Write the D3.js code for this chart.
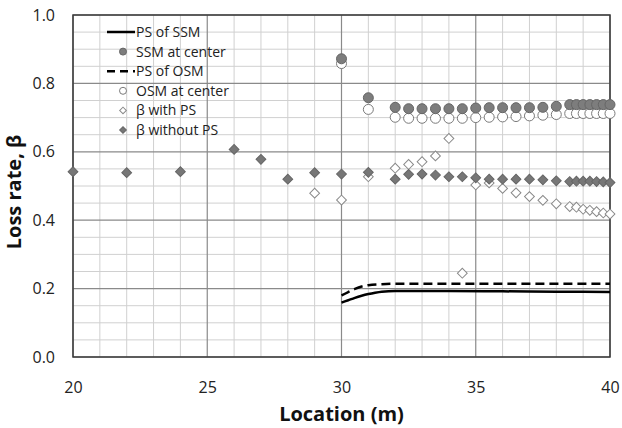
<!DOCTYPE html>
<html>
<head>
<meta charset="utf-8">
<script src="https://cdn.jsdelivr.net/npm/d3@7"></script>
<style>
    body { margin: 0; background: #ffffff; }
    svg { display: block; font-family: "Open Sans", sans-serif; }
</style>
</head>
<body>
<div id="chart"></div>
<script>
"use strict";

// beta without PS (filled diamonds)
const betaNoPsX = [20, 22, 24, 26, 27, 28, 29, 30, 31, 32, 32.5, 33, 33.5, 34, 34.5, 35, 35.5, 36, 36.5, 37, 37.5, 38, 38.5, 38.75, 39, 39.25, 39.5, 39.75, 40];
const betaNoPsY = [0.542, 0.539, 0.542, 0.607, 0.578, 0.520, 0.539, 0.535, 0.540, 0.520, 0.534, 0.535, 0.532, 0.527, 0.527, 0.524, 0.520, 0.520, 0.520, 0.520, 0.518, 0.515, 0.513, 0.514, 0.514, 0.514, 0.513, 0.512, 0.510];

// beta with PS (open diamonds)
const betaPsX = [29, 30, 31, 32, 32.5, 33, 33.5, 34, 34.5, 35, 35.5, 36, 36.5, 37, 37.5, 38, 38.5, 38.75, 39, 39.25, 39.5, 39.75, 40];
const betaPsY = [0.479, 0.459, 0.527, 0.552, 0.563, 0.571, 0.588, 0.639, 0.245, 0.503, 0.509, 0.493, 0.480, 0.469, 0.458, 0.448, 0.440, 0.438, 0.432, 0.429, 0.425, 0.421, 0.418];

// values at center (circles)
const centerX = [30, 31, 32, 32.5, 33, 33.5, 34, 34.5, 35, 35.5, 36, 36.5, 37, 37.5, 38, 38.5, 38.75, 39, 39.25, 39.5, 39.75, 40];
const ssmCenterY = [0.872, 0.758, 0.730, 0.726, 0.726, 0.726, 0.726, 0.726, 0.728, 0.729, 0.729, 0.729, 0.729, 0.730, 0.733, 0.738, 0.738, 0.738, 0.738, 0.738, 0.738, 0.738];
const osmCenterY = [0.858, 0.724, 0.701, 0.698, 0.698, 0.698, 0.698, 0.698, 0.700, 0.701, 0.702, 0.703, 0.705, 0.707, 0.709, 0.712, 0.712, 0.712, 0.712, 0.712, 0.712, 0.712];

// PS curves
const psSsmX = [30, 30.25, 30.5, 30.75, 31, 31.25, 31.5, 32, 34, 36, 38, 40];
const psSsmY = [0.159, 0.166, 0.173, 0.179, 0.184, 0.188, 0.191, 0.193, 0.193, 0.192, 0.191, 0.190];
const psOsmX = [30, 30.25, 30.5, 30.75, 31, 31.5, 32, 36, 40];
const psOsmY = [0.180, 0.190, 0.199, 0.206, 0.210, 0.213, 0.214, 0.214, 0.214];

const xTicks = [20, 25, 30, 35, 40];
const yTicks = [0.0, 0.2, 0.4, 0.6, 0.8, 1.0];

const legendLabels = ["PS of SSM", "SSM at center", "PS of OSM", "OSM at center", "\u03b2 with PS", "\u03b2 without PS"];

const margin = {top: 15, right: 12, bottom: 71, left: 73},
    width = 622 - margin.left - margin.right,
    height = 428 - margin.top - margin.bottom;

const svg = d3.select("#chart")
    .append("svg")
    .attr("width", 622)
    .attr("height", 428)
    .append("g")
    .attr("transform", "translate(" + margin.left + "," + margin.top + ")");

const x = d3.scaleLinear().domain([20, 40]).range([0, width]);
const y = d3.scaleLinear().domain([0, 1]).range([height, 0]);

// minor grid
svg.append("g")
    .selectAll("line")
    .data(d3.range(21, 40, 1).filter(function(d) { return d % 5 !== 0; }))
    .join("line")
    .attr("x1", function(d) { return x(d); })
    .attr("x2", function(d) { return x(d); })
    .attr("y1", 0)
    .attr("y2", height)
    .attr("stroke", "#d0d0d0")
    .attr("stroke-width", 1);

svg.append("g")
    .selectAll("line")
    .data(d3.range(1, 20, 1).filter(function(d) { return d % 4 !== 0; }))
    .join("line")
    .attr("x1", 0)
    .attr("x2", width)
    .attr("y1", function(d) { return y(d * 0.05); })
    .attr("y2", function(d) { return y(d * 0.05); })
    .attr("stroke", "#d0d0d0")
    .attr("stroke-width", 1);

// major grid
svg.append("g")
    .selectAll("line")
    .data(xTicks)
    .join("line")
    .attr("x1", function(d) { return x(d); })
    .attr("x2", function(d) { return x(d); })
    .attr("y1", 0)
    .attr("y2", height)
    .attr("stroke", "#8a8a8a")
    .attr("stroke-width", 1.2);

svg.append("g")
    .selectAll("line")
    .data(yTicks)
    .join("line")
    .attr("x1", 0)
    .attr("x2", width)
    .attr("y1", function(d) { return y(d); })
    .attr("y2", function(d) { return y(d); })
    .attr("stroke", "#8a8a8a")
    .attr("stroke-width", 1.2);

// frame
svg.append("rect")
    .attr("x", 0)
    .attr("y", 0)
    .attr("width", width)
    .attr("height", height)
    .attr("fill", "none")
    .attr("stroke", "#3a3a3a")
    .attr("stroke-width", 1.5);

// axes (labels only)
const xAxis = svg.append("g")
    .attr("transform", "translate(0," + height + ")")
    .call(d3.axisBottom(x).tickValues(xTicks).tickSize(0).tickPadding(25).tickFormat(d3.format("d")));
xAxis.select(".domain").remove();
xAxis.selectAll("text").attr("font-size", 16).attr("font-family", "Open Sans").attr("fill", "#222");

const yAxis = svg.append("g")
    .call(d3.axisLeft(y).tickValues(yTicks).tickSize(0).tickPadding(18).tickFormat(d3.format(".1f")));
yAxis.select(".domain").remove();
yAxis.selectAll("text").attr("font-size", 16).attr("font-family", "Open Sans").attr("fill", "#222");

svg.append("text")
    .attr("x", width / 2)
    .attr("y", height + 64)
    .attr("text-anchor", "middle")
    .attr("font-size", 20)
    .attr("font-weight", "bold")
    .attr("fill", "#111")
    .text("Location (m)");

svg.append("text")
    .attr("transform", "translate(" + (21 - margin.left) + "," + (height / 2 + 6) + ") rotate(-90)")
    .attr("text-anchor", "middle")
    .attr("font-size", 20)
    .attr("font-weight", "bold")
    .attr("fill", "#111")
    .text("Loss rate, \u03b2");

// PS lines
const line = d3.line()
    .curve(d3.curveMonotoneX)
    .x(function(d) { return x(d[0]); })
    .y(function(d) { return y(d[1]); });

svg.append("path")
    .datum(d3.zip(psSsmX, psSsmY))
    .attr("fill", "none")
    .attr("stroke", "#000")
    .attr("stroke-width", 2.5)
    .attr("d", line);

svg.append("path")
    .datum(d3.zip(psOsmX, psOsmY))
    .attr("fill", "none")
    .attr("stroke", "#000")
    .attr("stroke-width", 2.5)
    .attr("stroke-dasharray", "9,5")
    .attr("d", line);

const diamond = d3.symbol().type(d3.symbolSquare).size(48);
const diamondSmall = d3.symbol().type(d3.symbolSquare).size(22);

// open diamonds
svg.append("g")
    .selectAll("path")
    .data(d3.zip(betaPsX, betaPsY))
    .join("path")
    .attr("d", diamond)
    .attr("transform", function(d) { return "translate(" + x(d[0]) + "," + y(d[1]) + ") rotate(45)"; })
    .attr("fill", "#ffffff")
    .attr("stroke", "#8a8a8a")
    .attr("stroke-width", 1);

// open circles
svg.append("g")
    .selectAll("circle")
    .data(d3.zip(centerX, osmCenterY))
    .join("circle")
    .attr("cx", function(d) { return x(d[0]); })
    .attr("cy", function(d) { return y(d[1]); })
    .attr("r", 5)
    .attr("fill", "#ffffff")
    .attr("stroke", "#7a7a7a")
    .attr("stroke-width", 1);

// filled circles
svg.append("g")
    .selectAll("circle")
    .data(d3.zip(centerX, ssmCenterY))
    .join("circle")
    .attr("cx", function(d) { return x(d[0]); })
    .attr("cy", function(d) { return y(d[1]); })
    .attr("r", 5)
    .attr("fill", "#7d7d7d")
    .attr("stroke", "#666")
    .attr("stroke-width", 1);

// filled diamonds
svg.append("g")
    .selectAll("path")
    .data(d3.zip(betaNoPsX, betaNoPsY))
    .join("path")
    .attr("d", diamond)
    .attr("transform", function(d) { return "translate(" + x(d[0]) + "," + y(d[1]) + ") rotate(45)"; })
    .attr("fill", "#777")
    .attr("stroke", "#666")
    .attr("stroke-width", 1);

// legend
const legend = svg.append("g").attr("class", "legend");
const rowY = function(i) { return 17 + i * 19.6; };

legend.selectAll("text")
    .data(legendLabels)
    .join("text")
    .attr("x", 63)
    .attr("y", function(d, i) { return rowY(i); })
    .attr("dy", "0.35em")
    .attr("font-size", 14)
    .attr("fill", "#222")
    .text(function(d) { return d; });

legend.append("line")
    .attr("x1", 34).attr("x2", 62)
    .attr("y1", rowY(0)).attr("y2", rowY(0))
    .attr("stroke", "#000").attr("stroke-width", 2.5);

legend.append("line")
    .attr("x1", 34).attr("x2", 62)
    .attr("y1", rowY(2)).attr("y2", rowY(2))
    .attr("stroke", "#000").attr("stroke-width", 2.5)
    .attr("stroke-dasharray", "8,5");

legend.append("circle")
    .attr("cx", 50).attr("cy", rowY(1)).attr("r", 3.5)
    .attr("fill", "#7d7d7d").attr("stroke", "#666");

legend.append("circle")
    .attr("cx", 50).attr("cy", rowY(3)).attr("r", 3.5)
    .attr("fill", "#fff").attr("stroke", "#7a7a7a");

legend.append("path")
    .attr("d", diamondSmall)
    .attr("transform", "translate(50," + rowY(4) + ") rotate(45)")
    .attr("fill", "#fff").attr("stroke", "#8a8a8a");

legend.append("path")
    .attr("d", diamondSmall)
    .attr("transform", "translate(50," + rowY(5) + ") rotate(45)")
    .attr("fill", "#777").attr("stroke", "#666");
</script>
</body>
</html>
